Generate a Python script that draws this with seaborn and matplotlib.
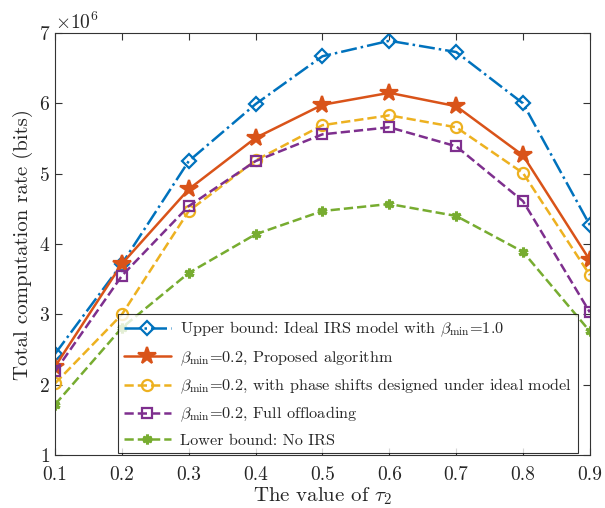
import numpy as np
import pandas as pd
import seaborn as sns
import matplotlib.pyplot as plt
from matplotlib.ticker import ScalarFormatter

# Data (units of 1e6 bits)
tau2 = [0.1, 0.2, 0.3, 0.4, 0.5, 0.6, 0.7, 0.8, 0.9]
upper_bound = [2.44, 3.72, 5.18, 5.99, 6.67, 6.89, 6.73, 6.00, 4.27]
proposed = [2.26, 3.72, 4.78, 5.51, 5.98, 6.15, 5.96, 5.26, 3.77]
ideal_phase = [2.02, 3.00, 4.47, 5.19, 5.69, 5.83, 5.66, 5.01, 3.56]
full_offload = [2.19, 3.55, 4.54, 5.18, 5.56, 5.66, 5.39, 4.61, 3.03]
lower_bound = [1.72, 2.81, 3.59, 4.14, 4.47, 4.57, 4.40, 3.89, 2.76]

labels = [
    r'Upper bound: Ideal IRS model with $\beta_{\rm min}$=1.0',
    r'$\beta_{\rm min}$=0.2, Proposed algorithm',
    r'$\beta_{\rm min}$=0.2, with phase shifts designed under ideal model',
    r'$\beta_{\rm min}$=0.2, Full offloading',
    'Lower bound: No IRS',
]
series = [upper_bound, proposed, ideal_phase, full_offload, lower_bound]
colors = ['#0072BD', '#D95319', '#EDB120', '#7E2F8E', '#77AC30']
linestyles = ['-.', '-', '--', '--', '--']
markers = ['D', '*', 'o', 's', (6, 2, 0)]
msizes = [7, 13, 8, 7, 7]

sns.set_style('ticks')
plt.rcParams['font.family'] = ['cmr10', 'DejaVu Serif']
plt.rcParams['mathtext.fontset'] = 'cm'
plt.rcParams['axes.formatter.use_mathtext'] = True

fig = plt.figure(figsize=(6.05, 5.08), dpi=100)
ax = fig.add_axes([0.091, 0.104, 0.884, 0.831])

for vals, lab, c, ls, m, ms in zip(series, labels, colors, linestyles, markers, msizes):
    df = pd.DataFrame({'tau': tau2, 'rate': np.array(vals) * 1e6})
    filled = m in ('*', (6, 2, 0))
    sns.lineplot(data=df, x='tau', y='rate', ax=ax, color=c, linestyle=ls,
                 linewidth=1.8, marker=m, markersize=ms,
                 markerfacecolor=c if filled else 'none', markeredgecolor=c,
                 markeredgewidth=2.2 if m == (6, 2, 0) else 1.6, label=lab)

ax.set_xlim(0.1, 0.9)
ax.set_ylim(1e6, 7e6)
ax.set_xticks(tau2)
ax.set_xticklabels([f'{t:.1f}' for t in tau2])
fmt = ScalarFormatter(useMathText=True)
fmt.set_powerlimits((0, 0))
ax.yaxis.set_major_formatter(fmt)
ax.yaxis.get_offset_text().set_fontsize(14)

ax.tick_params(direction='in', top=True, right=True, labelsize=14, length=5, width=0.8, color='#333333')
ax.tick_params(axis='x', pad=8)
for s in ax.spines.values():
    s.set_linewidth(0.8)
    s.set_color('#333333')

ax.set_xlabel(r'The value of $\tau_2$', fontsize=15, labelpad=1)
ax.set_ylabel('Total computation rate (bits)', fontsize=15)

leg = ax.legend(loc='lower right', bbox_to_anchor=(0.978, 0.004), fontsize=11.7,
                handlelength=2.9, frameon=True, fancybox=False, edgecolor='black',
                borderpad=0.35, labelspacing=0.55, handletextpad=0.6, borderaxespad=0)
leg.get_frame().set_linewidth(0.8)

fig.savefig('out.png', dpi=100)
